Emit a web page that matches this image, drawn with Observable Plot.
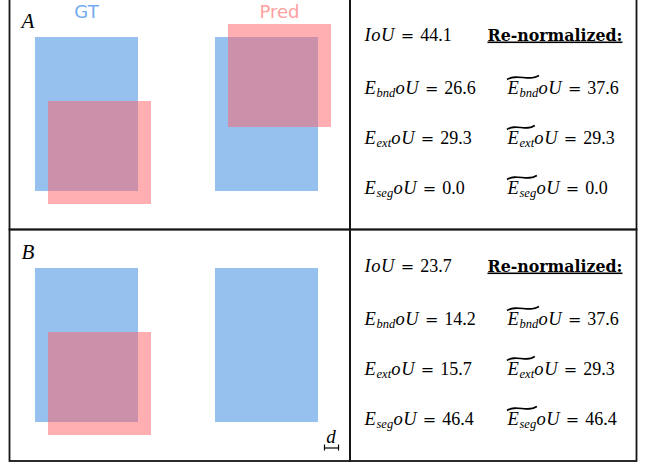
<!DOCTYPE html>
<html><head><meta charset="utf-8">
<script src="https://cdn.jsdelivr.net/npm/d3@7"></script>
<script src="https://cdn.jsdelivr.net/npm/@observablehq/plot@0.6"></script>
<style>body{margin:0;background:#fff}</style>
</head><body><div id="chart"></div>
<script>
// ---- data ----
const panelNames = ["A", "B"];
const metricNames = ["IoU", "E_{bnd}oU", "E_{ext}oU", "E_{seg}oU"];
const renormNames = ["~E_{bnd}oU", "~E_{ext}oU", "~E_{seg}oU"];
const valuesA = [44.1, 26.6, 29.3, 0.0];
const renormA = [37.6, 29.3, 0.0];
const valuesB = [23.7, 14.2, 15.7, 46.4];
const renormB = [37.6, 29.3, 46.4];
const headerLabel = "Re-normalized:";
const boxLabels = ["GT", "Pred"];

// box geometry in diagram units (pixels of the figure)
const gtBoxes = [
  {panel: "A", x1: 35, x2: 138, y1: 37, y2: 191},
  {panel: "A", x1: 215, x2: 318, y1: 37, y2: 191},
  {panel: "B", x1: 35, x2: 138, y1: 268, y2: 422},
  {panel: "B", x1: 215, x2: 318, y1: 268, y2: 422}
];
const predBoxes = [
  {panel: "A", x1: 48, x2: 151, y1: 101, y2: 204},
  {panel: "A", x1: 228, x2: 331, y1: 24, y2: 127},
  {panel: "B", x1: 48, x2: 151, y1: 332, y2: 435}
];
const unitBar = [{x1: 324, x2: 338, y: 447.5}];

// ---- layout ----
const W = 645, H = 463;
const cells = [
  {x1: 9.5, x2: 350, y1: -3, y2: 229.5},
  {x1: 350, x2: 636.5, y1: -3, y2: 229.5},
  {x1: 9.5, x2: 350, y1: 229.5, y2: 461},
  {x1: 350, x2: 636.5, y1: 229.5, y2: 461}
];
const panelOffset = [0, 231];
const rowBase = [40, 93, 143, 193];
const colLeft = 364, colRight = 507, headerX = 487;

const eqs = [];
panelNames.forEach((p, pi) => {
  const vals = pi === 0 ? valuesA : valuesB;
  const ren = pi === 0 ? renormA : renormB;
  metricNames.forEach((m, i) => eqs.push({x: colLeft, y: rowBase[i] + panelOffset[pi], label: `${m} = ${vals[i].toFixed(1)}`}));
  renormNames.forEach((m, i) => eqs.push({x: colRight, y: rowBase[i + 1] + panelOffset[pi], label: `${m} = ${ren[i].toFixed(1)}`}));
});
const headers = panelNames.map((p, pi) => ({x: headerX, y: rowBase[0] + panelOffset[pi], label: headerLabel}));
const panelTags = panelNames.map((p, pi) => ({x: 21, y: 27 + panelOffset[pi], label: p}));
const topLabels = [
  {x: 86, y: 17, label: boxLabels[0], color: "#74acf3"},
  {x: 279, y: 17, label: boxLabels[1], color: "#ffa0a0"}
];

const serif = "'Liberation Serif', 'Times New Roman', serif";

const chart = Plot.plot({
  width: W, height: H, margin: 0,
  x: {domain: [0, W], range: [0, W], axis: null},
  y: {domain: [0, H], range: [0, H], axis: null},
  style: {background: "#fff"},
  marks: [
    Plot.rect(gtBoxes, {x1: "x1", x2: "x2", y1: "y1", y2: "y2", fill: "#96c1ee"}),
    Plot.rect(predBoxes, {x1: "x1", x2: "x2", y1: "y1", y2: "y2", fill: "#ff5f65", fillOpacity: 0.5}),
    Plot.rect(cells, {x1: "x1", x2: "x2", y1: "y1", y2: "y2", fill: "none", stroke: "#161616", strokeWidth: 1.8}),
    Plot.text(topLabels, {x: "x", y: "y", text: "label", fill: d => d.color, fontFamily: "'DejaVu Sans', sans-serif", fontSize: 18, textAnchor: "middle", lineAnchor: "bottom"}),
    Plot.text(panelTags, {x: "x", y: "y", text: "label", fill: "#000", fontFamily: serif, fontStyle: "italic", fontSize: 21, textAnchor: "start", lineAnchor: "bottom"}),
    Plot.text(headers, {x: "x", y: "y", text: "label", fill: "#000", fontFamily: "'DejaVu Serif', serif", fontWeight: "bold", fontSize: 15.8, textAnchor: "start", lineAnchor: "bottom"}),
    Plot.text(eqs, {x: "x", y: "y", text: "label", fill: "#000", fontFamily: serif, fontSize: 17, textAnchor: "start", lineAnchor: "bottom"}),
    Plot.text([{x: 330.5, y: 442, label: "d"}], {x: "x", y: "y", text: "label", fill: "#000", fontFamily: serif, fontStyle: "italic", fontSize: 19, textAnchor: "middle", lineAnchor: "bottom"}),
    Plot.ruleY(unitBar, {y: "y", x1: "x1", x2: "x2", stroke: "#000", strokeWidth: 1.2}),
    Plot.ruleX(unitBar.flatMap(d => [{x: d.x1, y: d.y}, {x: d.x2, y: d.y}]), {x: "x", y1: d => d.y - 3, y2: d => d.y + 3, stroke: "#000", strokeWidth: 1.2})
  ]
});
document.getElementById("chart").appendChild(chart);

// ---- rich math text formatting ----
const svg = d3.select(chart);
svg.selectAll("text").each(function () {
  const el = this;
  const s = el.textContent;
  if (s === headerLabel) { el.setAttribute("text-decoration", "underline"); el.style.textDecoration = "underline"; return; }
  const m = s.match(/^(~?)(.*?) = (.*)$/);
  if (!m) return;
  const tilde = m[1] === "~";
  const expr = m[2], val = m[3];
  while (el.firstChild) el.removeChild(el.firstChild);
  const sel = d3.select(el);
  const re = /_\{([^}]*)\}/g;
  let last = 0, parts = [], mm;
  while ((mm = re.exec(expr))) {
    if (mm.index > last) parts.push({t: expr.slice(last, mm.index)});
    parts.push({t: mm[1], sub: true});
    last = re.lastIndex;
  }
  if (last < expr.length) parts.push({t: expr.slice(last)});
  let shifted = false, count = 0, tildeEnd = -1;
  parts.forEach(p => {
    const ts = sel.append("tspan").attr("font-style", "italic").text(p.t);
    if (p.sub) { ts.attr("font-size", 12.5).attr("letter-spacing", 0.1).attr("dy", 3); shifted = true; count += p.t.length; tildeEnd = count - 1; }
    else { ts.attr("font-size", 18.5).attr("letter-spacing", 0.6); if (shifted) { ts.attr("dy", -3); shifted = false; } count += p.t.length; }
  });
  sel.append("tspan").attr("font-style", "normal").text("\u2004");
  sel.append("tspan").attr("font-style", "normal").attr("font-family", "'DejaVu Serif', serif").attr("font-size", 16).text("=");
  sel.append("tspan").attr("font-style", "normal").attr("font-size", 18).text("\u2004" + val);
  if (tilde && tildeEnd >= 0) {
    const p0 = el.getStartPositionOfChar(0);
    const p1 = el.getEndPositionOfChar(tildeEnd);
    const x0 = p0.x - 0.5, x1 = p1.x + 0.5, w = x1 - x0, yc = p0.y - 16;
    const path = d3.select(el.parentNode).append("path")
      .attr("d", `M${x0},${yc + 2} C${x0 + w / 3},${yc - 4.8} ${x0 + 2 * w / 3},${yc + 4.8} ${x1},${yc - 2}`)
      .attr("fill", "none").attr("stroke", "#000").attr("stroke-width", 1.6);
    const tr = el.getAttribute("transform");
    if (tr) path.attr("transform", tr);
  }
});
</script>
</body></html>
